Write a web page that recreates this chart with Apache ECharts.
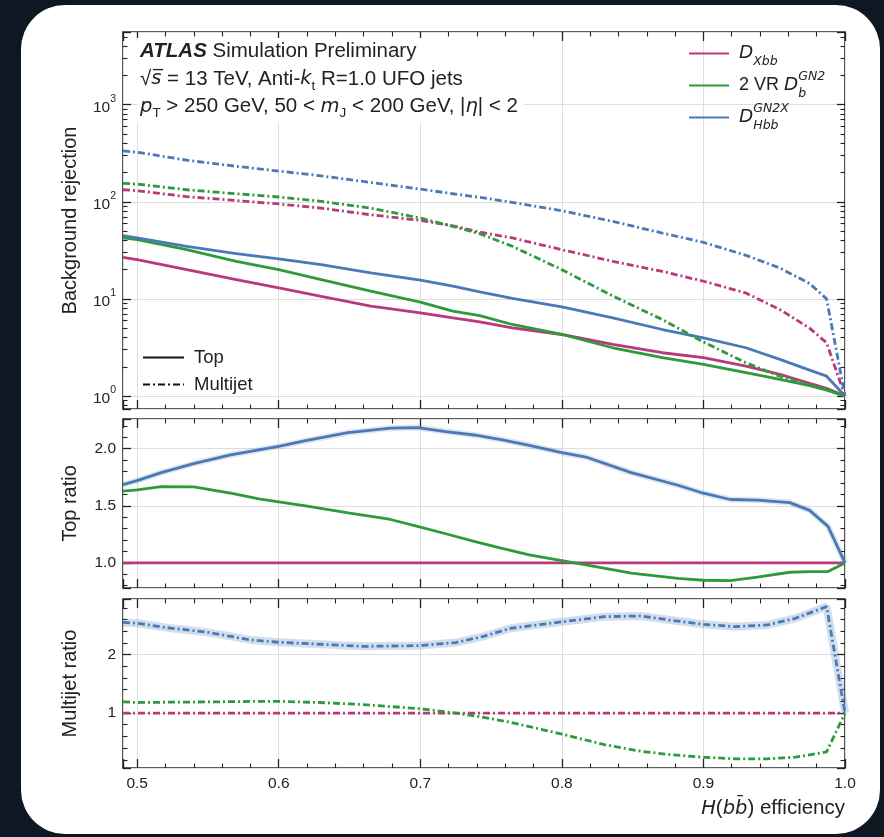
<!DOCTYPE html>
<html>
<head>
<meta charset="utf-8">
<script src="https://cdn.jsdelivr.net/npm/echarts@6/dist/echarts.min.js"></script>
<style>
  html, body { margin: 0; padding: 0; width: 884px; height: 837px; overflow: hidden; background: #0e1822; }
  #card { position: absolute; left: 21px; top: 5px; width: 859px; height: 829px; background: #ffffff; border-radius: 44px; }
  #chart { position: absolute; left: 0; top: 0; width: 884px; height: 837px; }
</style>
</head>
<body>
<div id="card"></div>
<div id="chart"></div>
<script>
// ---- Background rejection vs. H(bb) efficiency ----
const effMain = [0.49, 0.50, 0.535, 0.57, 0.60, 0.63, 0.665, 0.70, 0.723, 0.742, 0.765, 0.80, 0.836, 0.871, 0.90, 0.93, 0.954, 0.975, 0.987, 1.0];
const xbbTop       = [26.8, 25.4, 20.0, 15.8, 13.0, 10.6, 8.41, 7.18, 6.38, 5.8, 5.04, 4.3, 3.4, 2.79, 2.48, 2.03, 1.67, 1.35, 1.2, 1.0];
const gn2Top       = [42.4, 40.7, 32.1, 24.4, 20.0, 15.8, 12.0, 9.25, 7.47, 6.74, 5.45, 4.3, 3.14, 2.48, 2.12, 1.74, 1.48, 1.28, 1.15, 1.0];
const gn2xTop      = [44.7, 42.4, 34.8, 29.2, 25.8, 22.5, 18.5, 15.6, 13.5, 11.8, 10.1, 8.27, 6.38, 4.84, 3.97, 3.14, 2.38, 1.85, 1.6, 1.0];
const xbbMultijet  = [133, 130, 113, 103, 95, 86, 73.5, 64.3, 56.6, 48.8, 42.4, 32.1, 24.4, 19.2, 15.2, 11.5, 7.77, 5.0, 3.53, 1.0];
const gn2Multijet  = [155, 152, 133, 121, 112, 101, 86, 68, 55.8, 46.9, 34.8, 20.0, 10.7, 6.13, 3.6, 2.2, 1.6, 1.3, 1.18, 1.0];
const gn2xMultijet = [334, 324, 268, 232, 207, 185, 158, 135, 121, 111, 98.5, 80.8, 62.8, 47.6, 38.2, 28.1, 20.8, 14.4, 10.0, 1.0];

// ---- Ratio to D_Xbb, top-quark background ----
const effTopRatio   = [0.49, 0.50, 0.517, 0.54, 0.566, 0.586, 0.60, 0.619, 0.649, 0.679, 0.698, 0.718, 0.738, 0.757, 0.777, 0.80, 0.817, 0.849, 0.882, 0.90, 0.919, 0.938, 0.961, 0.975, 0.988, 1.0];
const xbbTopRatio   = [1, 1, 1, 1, 1, 1, 1, 1, 1, 1, 1, 1, 1, 1, 1, 1, 1, 1, 1, 1, 1, 1, 1, 1, 1, 1];
const gn2TopRatio   = [1.628, 1.64, 1.668, 1.666, 1.61, 1.56, 1.535, 1.50, 1.437, 1.38, 1.32, 1.255, 1.188, 1.13, 1.07, 1.02, 0.983, 0.91, 0.865, 0.848, 0.845, 0.875, 0.918, 0.924, 0.924, 1.0];
const gn2xTopRatio  = [1.686, 1.72, 1.79, 1.87, 1.945, 1.99, 2.02, 2.07, 2.14, 2.18, 2.185, 2.15, 2.12, 2.08, 2.03, 1.965, 1.927, 1.79, 1.68, 1.61, 1.555, 1.55, 1.528, 1.46, 1.32, 1.0];

// ---- Ratio to D_Xbb, multijet background ----
const effMultijetRatio  = [0.49, 0.50, 0.521, 0.55, 0.58, 0.60, 0.629, 0.659, 0.70, 0.725, 0.744, 0.764, 0.80, 0.830, 0.856, 0.876, 0.90, 0.922, 0.945, 0.965, 0.987, 1.0];
const xbbMultijetRatio  = [1, 1, 1, 1, 1, 1, 1, 1, 1, 1, 1, 1, 1, 1, 1, 1, 1, 1, 1, 1, 1, 1];
const gn2MultijetRatio  = [1.19, 1.18, 1.185, 1.19, 1.198, 1.2, 1.18, 1.145, 1.074, 1.0, 0.93, 0.84, 0.64, 0.46, 0.345, 0.29, 0.244, 0.218, 0.216, 0.245, 0.335, 1.0];
const gn2xMultijetRatio = [2.55, 2.534, 2.46, 2.38, 2.25, 2.21, 2.176, 2.14, 2.153, 2.205, 2.307, 2.45, 2.56, 2.648, 2.66, 2.59, 2.517, 2.477, 2.506, 2.62, 2.82, 1.0];

// ---- styling ----
const FONT = '"Liberation Sans", Arial, Helvetica, sans-serif';
const MATH = '"DejaVu Sans", sans-serif';
const INK = '#222222';
const C_XBB = '#b9397d', C_GN2 = '#2e9a3c', C_GN2X = '#4a7ab5';
const DASHDOT = [7, 3, 2, 3];
const LINE_W = 2.8;
const X_MIN = 0.49, X_MAX = 1.0;

const pairs = (xs, ys) => xs.map((x, i) => [x, ys[i]]);
const onStep = (v, step) => Math.abs(v / step - Math.round(v / step)) < 1e-6;

// minor decade ticks (2..9 x 10^n) for the logarithmic axis
const logMinorTicks = [];
for (let e = -1; e <= 3; e++) {
  for (let m = 2; m <= 9; m++) {
    const v = +(m * Math.pow(10, e)).toPrecision(3);
    if (v > 0.735 && v < 5600) logMinorTicks.push(v);
  }
}

const tickLine = { color: INK, width: 1.3 };
const labelBase = { fontFamily: FONT, fontSize: 15.5, color: INK };
const nameBase = { fontFamily: FONT, fontSize: 20, color: INK };

function xAxisOf(grid, pos, withLabels, extra) {
  return Object.assign({
    type: 'value', gridIndex: grid, position: pos, min: X_MIN, max: X_MAX, splitNumber: 5,
    axisLine: { show: false },
    axisTick: { show: true, inside: true, length: 9, lineStyle: tickLine },
    minorTick: { show: true, splitNumber: 5, length: 4.5, lineStyle: { color: INK, width: 1.1 } },
    splitLine: { show: pos === 'bottom', lineStyle: { color: '#dedede', width: 1 } },
    axisLabel: Object.assign({ show: withLabels, margin: 8,
      formatter: v => (v >= 0.5 - 1e-9 && onStep(v, 0.1)) ? v.toFixed(1) : '' }, labelBase)
  }, extra || {});
}

function ratioAxisOf(grid, pos, min, max, step, digits, name) {
  return {
    type: 'value', gridIndex: grid, position: pos, min: min, max: max, splitNumber: 3,
    axisLine: { show: false },
    axisTick: { show: true, inside: true, length: 8, lineStyle: tickLine },
    minorTick: { show: true, splitNumber: 5, length: 4.5, lineStyle: { color: INK, width: 1.1 } },
    splitLine: { show: pos === 'left', lineStyle: { color: '#dedede', width: 1 } },
    axisLabel: Object.assign({ show: pos === 'left', margin: 7,
      formatter: v => onStep(v, step) ? v.toFixed(digits) : '' }, labelBase),
    name: pos === 'left' ? name : '', nameLocation: 'middle', nameRotate: 90, nameGap: 43,
    nameTextStyle: nameBase
  };
}

function logAxisOf(pos, minor) {
  const ax = {
    type: 'log', logBase: 10, gridIndex: 0, position: pos, min: 0.735, max: 5600,
    axisLine: { show: false },
    axisTick: { show: true, inside: true, length: minor ? 4.5 : 8, lineStyle: minor ? { color: INK, width: 1.1 } : tickLine },
    splitLine: { show: pos === 'left' && !minor, lineStyle: { color: '#dedede', width: 1 } },
    axisLabel: { show: pos === 'left' && !minor, margin: 7,
      formatter: v => {
        const l = Math.log10(v), e = Math.round(l);
        return Math.abs(l - e) < 1e-6 ? '{b|10}{s|' + e + '}' : '';
      },
      rich: {
        b: { fontFamily: FONT, fontSize: 15.5, color: INK, lineHeight: 22, verticalAlign: 'bottom' },
        s: { fontFamily: FONT, fontSize: 10.5, color: INK, lineHeight: 12, verticalAlign: 'top' }
      }
    }
  };
  if (minor) ax.axisTick.customValues = logMinorTicks;
  if (pos === 'left' && !minor) {
    ax.name = 'Background rejection';
    ax.nameLocation = 'middle'; ax.nameRotate = 90; ax.nameGap = 43;
    ax.nameTextStyle = nameBase;
  }
  return ax;
}

const gridBox = { show: true, borderColor: '#2a2a2a', borderWidth: 1.6, backgroundColor: 'transparent' };

function lineSeries(name, xAxisIndex, yAxisIndex, data, color, dashed) {
  return {
    type: 'line', name: name, xAxisIndex: xAxisIndex, yAxisIndex: yAxisIndex, data: data,
    symbol: 'none', showSymbol: false, silent: true, z: 3,
    lineStyle: { color: color, width: LINE_W, type: dashed ? DASHDOT : 'solid', cap: 'butt' },
    itemStyle: { color: color }
  };
}

function haloSeries(xAxisIndex, yAxisIndex, data, color, width) {
  return {
    type: 'line', name: 'band', xAxisIndex: xAxisIndex, yAxisIndex: yAxisIndex, data: data,
    symbol: 'none', silent: true, z: 2,
    lineStyle: { color: color, width: width }
  };
}

const legendText = {
  Xbb: '{i|D}{sub|Xbb}',
  GN2: '2 VR {i|D}{sub0|b}{sup|GN2}',
  GN2X: '{i|D}{sub0|Hbb}{sup|GN2X}'
};

const annoRich = {
  ab: { fontFamily: FONT, fontWeight: 'bold', fontStyle: 'italic', fontSize: 20.5, lineHeight: 27.5, fill: INK },
  n: { fontFamily: FONT, fontSize: 20.5, lineHeight: 27.5, fill: INK },
  m: { fontFamily: MATH, fontStyle: 'italic', fontSize: 19.5, lineHeight: 27.5, fill: INK },
  sub: { fontFamily: FONT, fontSize: 13.5, lineHeight: 15, verticalAlign: 'bottom', fill: INK }
};

const annotation = [
  '{ab|ATLAS}{n| Simulation Preliminary}',
  '{n|\u221A}{m|s\u0305}{n| = 13 TeV, Anti-}{m|k}{sub|t}{n| R=1.0 UFO jets}',
  '{m|p}{sub|T}{n| > 250 GeV, 50 < }{m|m}{sub|J}{n| < 200 GeV, |}{m|\u03B7}{n|| < 2}'
].join('\n');

const option = {
  animation: false,
  backgroundColor: 'transparent',
  grid: [
    Object.assign({ left: 123, top: 32, width: 722, height: 377 }, gridBox),
    Object.assign({ left: 123, top: 419, width: 722, height: 169 }, gridBox),
    Object.assign({ left: 123, top: 599, width: 722, height: 169 }, gridBox)
  ],
  xAxis: [
    xAxisOf(0, 'bottom', false),
    xAxisOf(0, 'top', false),
    xAxisOf(1, 'bottom', false),
    xAxisOf(1, 'top', false),
    xAxisOf(2, 'bottom', true, {
      name: '{i|H}{n|(}{i|b}{i|b\u0304}{n|) efficiency}',
      nameLocation: 'end', nameGap: 0,
      nameTextStyle: {
        align: 'right', verticalAlign: 'top', padding: [30, 0, 0, 0],
        rich: {
          i: { fontFamily: MATH, fontStyle: 'italic', fontSize: 19.5, color: INK },
          n: { fontFamily: FONT, fontSize: 20.5, color: INK }
        }
      }
    }),
    xAxisOf(2, 'top', false)
  ],
  yAxis: [
    logAxisOf('left', false),
    logAxisOf('right', false),
    logAxisOf('left', true),
    logAxisOf('right', true),
    ratioAxisOf(1, 'left', 0.78, 2.26, 0.5, 1, 'Top ratio'),
    ratioAxisOf(1, 'right', 0.78, 2.26, 0.5, 1, ''),
    ratioAxisOf(2, 'left', 0.06, 2.95, 1, 0, 'Multijet ratio'),
    ratioAxisOf(2, 'right', 0.06, 2.95, 1, 0, '')
  ],
  legend: [
    {
      data: ['Xbb', 'GN2', 'GN2X'], orient: 'vertical', left: 683, top: 39,
      itemWidth: 40, itemHeight: 14, itemGap: 2, selectedMode: false,
      itemStyle: { opacity: 0 },
      formatter: name => legendText[name],
      textStyle: {
        fontFamily: FONT, fontSize: 18, color: INK, padding: [0, 0, 0, 5],
        rich: {
          i: { fontFamily: MATH, fontStyle: 'italic', fontSize: 18.5, lineHeight: 30, color: INK },
          sub: { fontFamily: MATH, fontStyle: 'italic', fontSize: 12.5, lineHeight: 13, verticalAlign: 'bottom', color: INK },
          sub0: { fontFamily: MATH, fontStyle: 'italic', fontSize: 12.5, lineHeight: 13, verticalAlign: 'bottom', width: 0, color: INK },
          sup: { fontFamily: MATH, fontStyle: 'italic', fontSize: 12.5, lineHeight: 13, verticalAlign: 'top', color: INK }
        }
      }
    },
    {
      data: ['Top', 'Multijet'], orient: 'vertical', left: 137, top: 343,
      itemWidth: 41, itemHeight: 12, itemGap: 8, selectedMode: false,
      itemStyle: { opacity: 0 },
      textStyle: { fontFamily: FONT, fontSize: 18.5, color: INK, padding: [0, 0, 0, 5] }
    }
  ],
  graphic: [
    {
      type: 'text', x: 137, y: 38, silent: true, z: 10,
      style: {
        text: annotation, verticalAlign: 'top',
        backgroundColor: '#ffffff', padding: [0, 6, 2, 3],
        rich: annoRich
      }
    }
  ],
  series: [
    // main panel: top-quark background (solid)
    lineSeries('Xbb', 0, 0, pairs(effMain, xbbTop), C_XBB, false),
    lineSeries('GN2', 0, 0, pairs(effMain, gn2Top), C_GN2, false),
    lineSeries('GN2X', 0, 0, pairs(effMain, gn2xTop), C_GN2X, false),
    // main panel: multijet background (dash-dot)
    lineSeries('Xbb', 0, 0, pairs(effMain, xbbMultijet), C_XBB, true),
    lineSeries('GN2', 0, 0, pairs(effMain, gn2Multijet), C_GN2, true),
    lineSeries('GN2X', 0, 0, pairs(effMain, gn2xMultijet), C_GN2X, true),
    // line-style key
    lineSeries('Top', 0, 0, [], '#111111', false),
    lineSeries('Multijet', 0, 0, [], '#111111', true),
    // top ratio panel
    haloSeries(2, 4, pairs(effTopRatio, gn2xTopRatio), 'rgba(74,122,181,0.18)', 6),
    lineSeries('Xbb', 2, 4, pairs(effTopRatio, xbbTopRatio), C_XBB, false),
    lineSeries('GN2', 2, 4, pairs(effTopRatio, gn2TopRatio), C_GN2, false),
    lineSeries('GN2X', 2, 4, pairs(effTopRatio, gn2xTopRatio), C_GN2X, false),
    // multijet ratio panel
    haloSeries(4, 6, pairs(effMultijetRatio, gn2xMultijetRatio), 'rgba(74,122,181,0.25)', 8),
    lineSeries('Xbb', 4, 6, pairs(effMultijetRatio, xbbMultijetRatio), C_XBB, true),
    lineSeries('GN2', 4, 6, pairs(effMultijetRatio, gn2MultijetRatio), C_GN2, true),
    lineSeries('GN2X', 4, 6, pairs(effMultijetRatio, gn2xMultijetRatio), C_GN2X, true)
  ]
};

const chart = echarts.init(document.getElementById('chart'), null, { renderer: 'canvas' });
chart.setOption(option);
</script>
</body>
</html>
